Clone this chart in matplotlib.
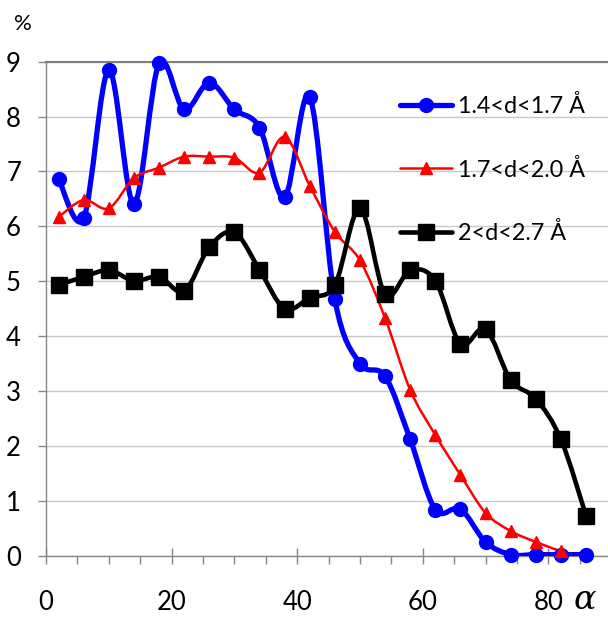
import numpy as np
import matplotlib
matplotlib.use("Agg")
import matplotlib.pyplot as plt
from matplotlib.path import Path
from matplotlib.patches import PathPatch
from matplotlib.lines import Line2D
from matplotlib.ticker import MultipleLocator

# angle alpha (deg) for each bin
alpha_blue = [2, 6, 10, 14, 18, 22, 26, 30, 34, 38, 42, 46, 50, 54, 58, 62, 66, 70, 74, 78, 82, 86]
alpha_red = [2, 6, 10, 14, 18, 22, 26, 30, 34, 38, 42, 46, 50, 54, 58, 62, 66, 70, 74, 78, 82]
alpha_black = [2, 6, 10, 14, 18, 22, 26, 30, 34, 38, 42, 46, 50, 54, 58, 62, 66, 70, 74, 78, 82, 86]

pct_blue = [6.87, 6.15, 8.85, 6.41, 8.97, 8.13, 8.62, 8.13, 7.80, 6.53, 8.36, 4.67,
            3.50, 3.27, 2.12, 0.84, 0.85, 0.25, 0.02, 0.02, 0.02, 0.02]
pct_red = [6.17, 6.48, 6.33, 6.88, 7.07, 7.27, 7.27, 7.25, 6.98, 7.63, 6.74, 5.90,
           5.38, 4.33, 3.02, 2.20, 1.47, 0.78, 0.45, 0.25, 0.08]
pct_black = [4.93, 5.08, 5.20, 5.01, 5.08, 4.82, 5.62, 5.89, 5.21, 4.50, 4.70, 4.93,
             6.33, 4.76, 5.20, 5.01, 3.86, 4.13, 3.20, 2.86, 2.12, 0.73]

labels = ["1.4<d<1.7 Å", "1.7<d<2.0 Å", "2<d<2.7 Å"]

FONT = "Lato"
GRID = "#c8c8c8"
AXC = "#868686"


def smooth_path(x, y):
    # excel-like smoothed line: catmull-rom segments as cubic beziers
    p = np.column_stack([x, y]).astype(float)
    n = len(p)
    verts = [p[0]]
    codes = [Path.MOVETO]
    for i in range(n - 1):
        p0 = p[i - 1] if i > 0 else p[i]
        p3 = p[i + 2] if i + 2 < n else p[i + 1]
        c1 = p[i] + (p[i + 1] - p0) / 6.0
        c2 = p[i + 1] - (p3 - p[i]) / 6.0
        verts += [c1, c2, p[i + 1]]
        codes += [Path.CURVE4] * 3
    return Path(verts, codes)


fig = plt.figure(figsize=(6.08, 6.18), dpi=100)
ax = fig.add_axes([46 / 608, 62.3 / 618, 1 - 46 / 608, 494 / 618])

styles = [
    (alpha_blue, pct_blue, "#0000ff", 3.8, "o", 10),
    (alpha_red, pct_red, "#ff0000", 1.8, "^", 8.5),
    (alpha_black, pct_black, "#000000", 3.3, "s", 11),
]
handles = []
for (xs, ys, c, lw, m, ms), lab in zip(styles, labels):
    ax.add_patch(PathPatch(smooth_path(xs, ys), fill=False, edgecolor=c, lw=lw,
                           capstyle="round", joinstyle="round", zorder=3))
    ax.plot(xs, ys, ls="none", marker=m, ms=ms, color=c, zorder=4, clip_on=False)
    handles.append(Line2D([], [], color=c, lw=lw, marker=m, ms=ms, solid_capstyle="round"))

ax.set_xlim(0, 89.5)
ax.set_ylim(0, 9)
ax.xaxis.set_major_locator(MultipleLocator(20))
ax.xaxis.set_minor_locator(MultipleLocator(5))
ax.yaxis.set_major_locator(MultipleLocator(1))

ax.grid(axis="y", color=GRID, lw=1.0, zorder=0)
ax.set_axisbelow(True)
ax.spines["right"].set_visible(False)
ax.spines["top"].set_color("#7f7f7f")
ax.spines["top"].set_linewidth(1.5)
ax.spines["left"].set_color(AXC)
ax.spines["bottom"].set_color(AXC)
ax.spines["left"].set_linewidth(1.0)
ax.spines["bottom"].set_linewidth(1.0)

ax.tick_params(axis="x", which="major", direction="inout", length=12, width=1, color=AXC,
               pad=19, labelsize=18.5)
ax.tick_params(axis="x", which="minor", direction="out", length=6, width=1, color=AXC)
ax.tick_params(axis="y", which="major", direction="out", length=6, width=1, color=AXC,
               pad=12, labelsize=18.5)
for t in ax.get_xticklabels() + ax.get_yticklabels():
    t.set_fontfamily(FONT)

ax.legend(handles, labels, loc="upper left", bbox_to_anchor=(345 / 562, 1.0 - 24 / 494),
          frameon=False, numpoints=1, handlelength=2.2, handletextpad=0.25,
          labelspacing=1.78, prop={"family": FONT, "size": 16.8}, borderaxespad=0)

fig.text(22.7 / 608, 1 - 24 / 618, "%", fontsize=16, family=FONT, ha="center", va="center")
fig.text(585 / 608, 1 - 600 / 618, "α", fontsize=24, family="DejaVu Serif",
         style="italic", ha="center", va="center")

fig.savefig("out.png", dpi=100)
